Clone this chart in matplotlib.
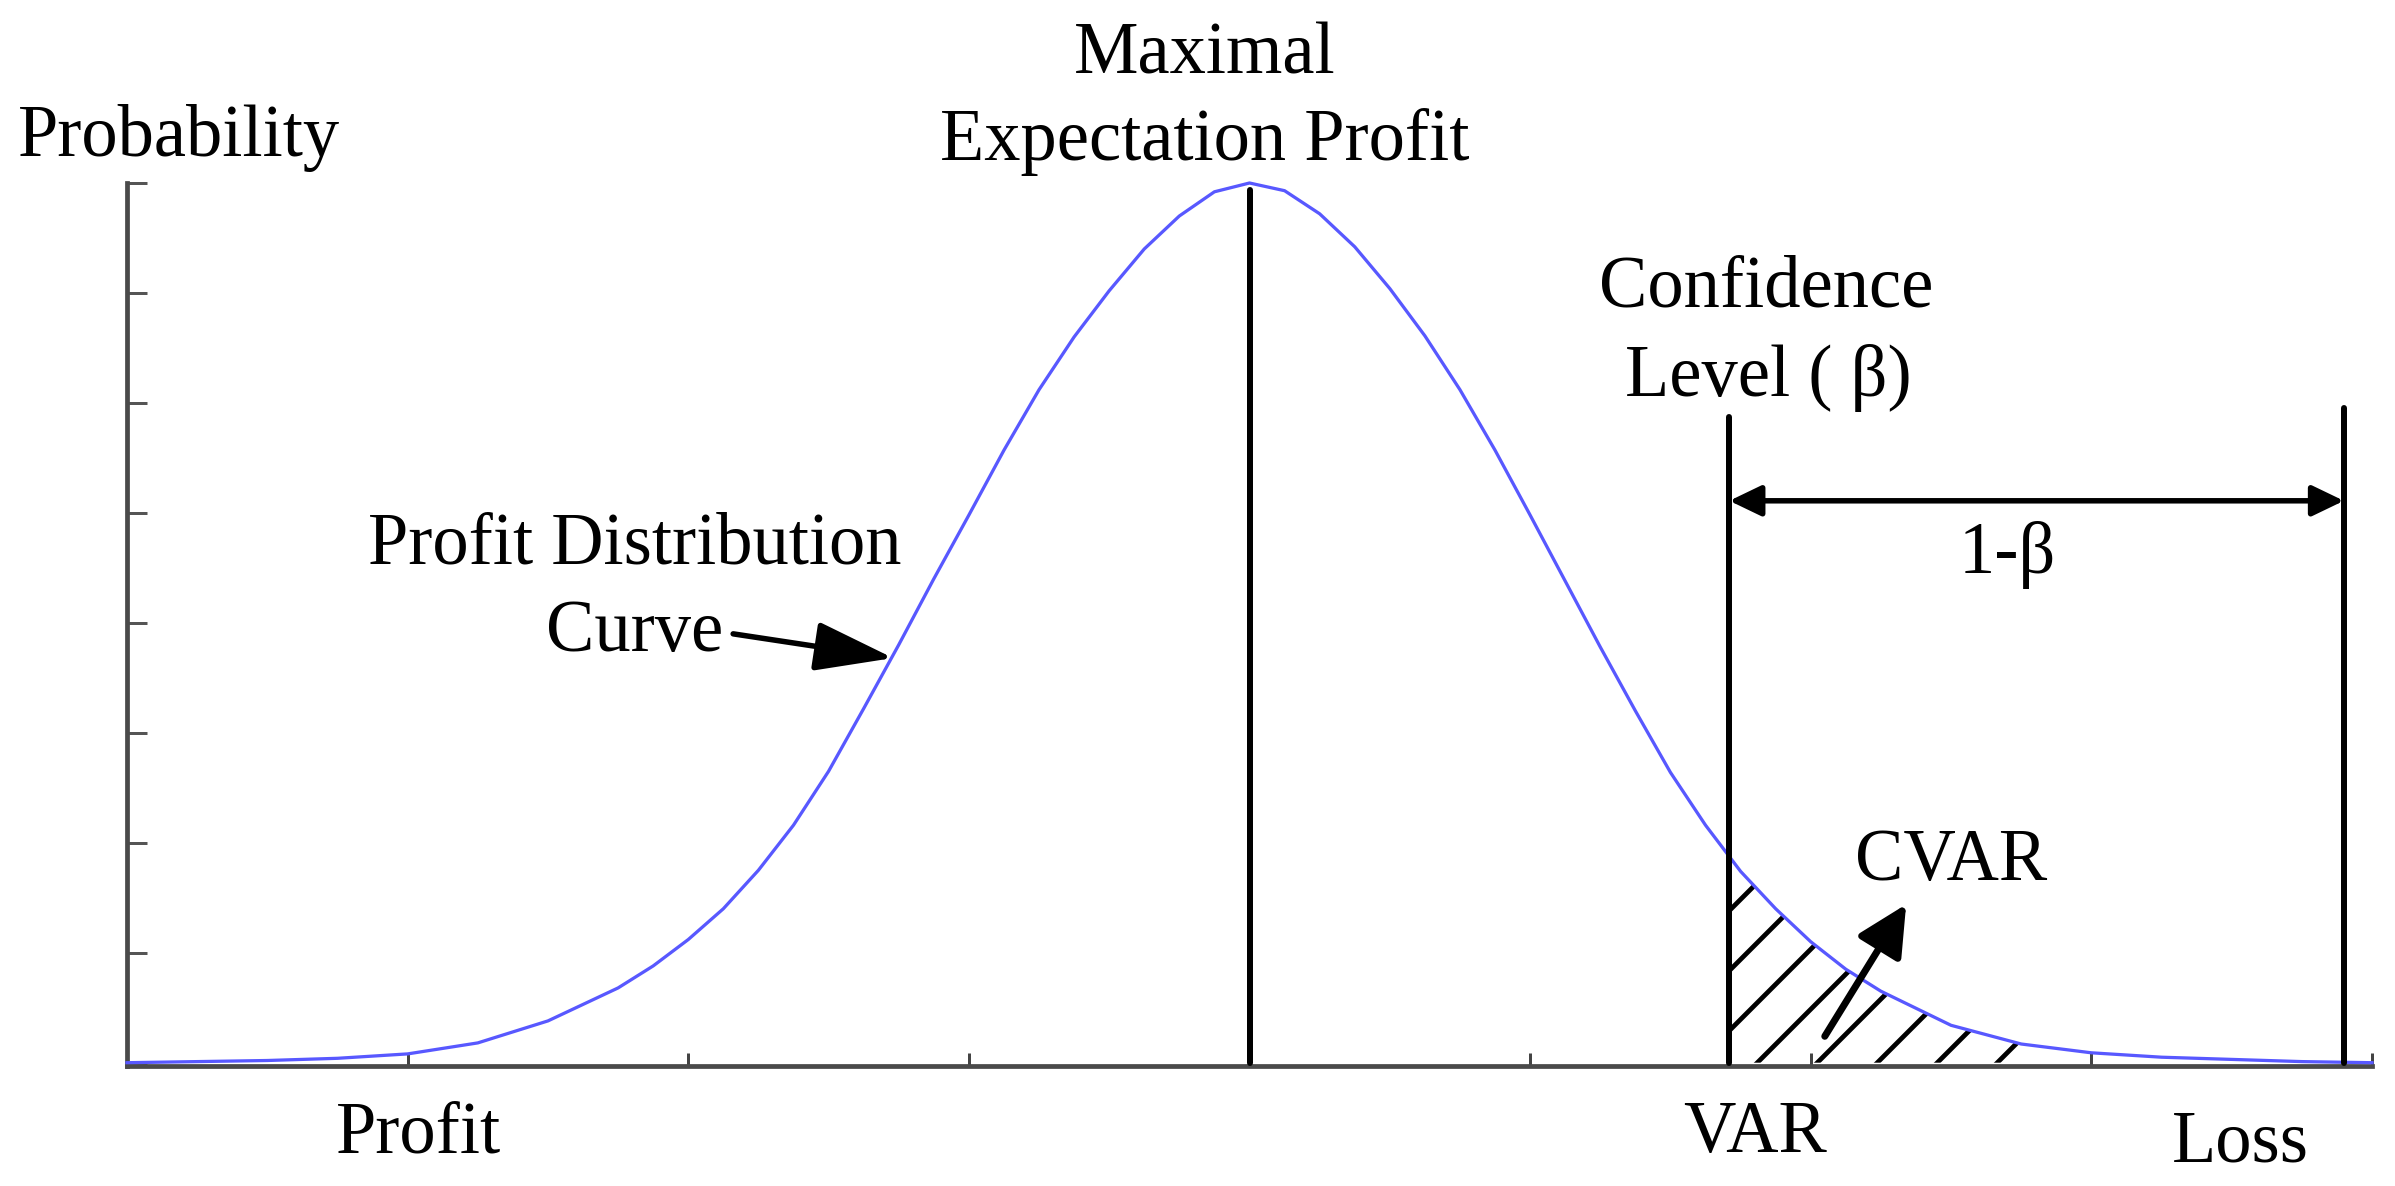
import matplotlib

matplotlib.use("Agg")
import matplotlib.pyplot as plt
import numpy as np


# profit distribution curve (axis units 0-8 on both axes)
CURVE_X = [0.0, 0.5, 0.75, 1.0, 1.25, 1.5, 1.75, 1.875, 2.0, 2.125, 2.25, 2.375,
           2.5, 2.625, 2.75, 2.875, 3.0, 3.125, 3.25, 3.375, 3.5, 3.625, 3.75,
           3.875, 4.0, 4.125, 4.25, 4.375, 4.5, 4.625, 4.75, 4.875, 5.0, 5.125,
           5.25, 5.375, 5.5, 5.625, 5.75, 5.875, 6.0, 6.125, 6.25, 6.5, 6.75,
           7.0, 7.25, 7.5, 7.75, 8.0]
CURVE_Y = [0.0, 0.02, 0.04, 0.08, 0.18, 0.38, 0.68, 0.88, 1.12, 1.40, 1.75, 2.16,
           2.65, 3.22, 3.80, 4.40, 4.98, 5.57, 6.12, 6.60, 7.02, 7.40, 7.70,
           7.92, 8.0, 7.93, 7.72, 7.42, 7.04, 6.61, 6.12, 5.57, 4.98, 4.38,
           3.78, 3.20, 2.64, 2.16, 1.74, 1.40, 1.10, 0.85, 0.65, 0.34, 0.17,
           0.09, 0.05, 0.03, 0.01, 0.0]

# vertical markers: x position and height
MEAN_X, MEAN_TOP = 4.0, 7.94
VAR_X, VAR_TOP = 5.71, 5.87
TAIL_X, TAIL_TOP = 7.90, 5.95
BAND_Y = 5.11
HATCH_END_X = 6.75

TICKS = list(range(9))

FONT = ["Liberation Serif", "DejaVu Serif"]
FONT_SIZE = 29
DPI = 180


def draw_chart():
    plt.rcParams["font.family"] = FONT
    plt.rcParams["hatch.linewidth"] = 1.9
    plt.rcParams["hatch.color"] = "black"

    fig = plt.figure(figsize=(2395 / DPI, 1186 / DPI), dpi=DPI)
    ax = fig.add_axes([127 / 2395, 1 - 1066 / 1186, 2245 / 2395, (1066 - 183) / 1186])
    ax.set_xlim(0, 8)
    ax.set_ylim(-0.03, 8)

    for side in ["top", "right"]:
        ax.spines[side].set_visible(False)
    for side in ["left", "bottom"]:
        ax.spines[side].set_color("#4a4a4a")
        ax.spines[side].set_linewidth(1.9)
    ax.set_xticks(TICKS)
    ax.set_yticks(TICKS)
    ax.tick_params(axis="x", direction="in", length=5.2, width=1.2, color="#444444",
                   labelbottom=False)
    ax.tick_params(axis="y", direction="in", length=8, width=1.2, color="#555555",
                   labelleft=False)

    cx = np.array(CURVE_X)
    cy = np.array(CURVE_Y)

    # hatched CVAR tail
    inside = (cx > VAR_X) & (cx < HATCH_END_X)
    hx = np.concatenate([[VAR_X], cx[inside], [HATCH_END_X]])
    hy = np.interp(hx, cx, cy)
    ax.fill_between(hx, 0, hy, facecolor="none", edgecolor="black", hatch="/",
                    linewidth=0, zorder=1)

    ax.plot(cx, cy, color="#5858ff", linewidth=1.3, zorder=3, clip_on=False)

    for x, top in [(MEAN_X, MEAN_TOP), (VAR_X, VAR_TOP), (TAIL_X, TAIL_TOP)]:
        ax.plot([x, x], [0, top], color="black", linewidth=2.4,
                solid_capstyle="round", zorder=4)

    # 1-beta span
    ax.annotate("", xy=(TAIL_X, BAND_Y), xytext=(VAR_X, BAND_Y),
                arrowprops=dict(arrowstyle="<|-|>,head_length=10.8,head_width=5.2",
                                color="black", lw=2.2, shrinkA=0, shrinkB=0,
                                mutation_scale=1))
    # pointer to the curve
    ax.annotate("", xy=(2.73, 3.68), xytext=(2.16, 3.90),
                arrowprops=dict(arrowstyle="-|>,head_length=27,head_width=8.5",
                                color="black", lw=2.2, shrinkA=0, shrinkB=0,
                                mutation_scale=1))
    # pointer to CVAR label
    ax.annotate("", xy=(6.34, 1.44), xytext=(6.05, 0.24),
                arrowprops=dict(arrowstyle="-|>,head_length=17,head_width=8.5",
                                color="black", lw=2.8, shrinkA=0, shrinkB=0,
                                mutation_scale=1))

    text_kw = dict(fontsize=FONT_SIZE, color="black", va="baseline", clip_on=False)
    ax.text(-0.388, 8.25, "Probability", ha="left", **text_kw)
    ax.text(3.84, 9.00, "Maximal", ha="center", **text_kw)
    ax.text(3.84, 8.21, "Expectation Profit", ha="center", **text_kw)
    ax.text(5.84, 6.875, "Confidence", ha="center", **text_kw)
    ax.text(5.85, 6.06, "Level ( β)", ha="center", **text_kw)
    ax.text(1.81, 4.54, "Profit Distribution", ha="center", **text_kw)
    ax.text(1.81, 3.74, "Curve", ha="center", **text_kw)
    ax.text(6.70, 4.45, "1-β", ha="center", **text_kw)
    ax.text(6.50, 1.66, "CVAR", ha="center", **text_kw)
    ax.text(1.04, -0.82, "Profit", ha="center", **text_kw)
    ax.text(5.80, -0.81, "VAR", ha="center", **text_kw)
    ax.text(7.53, -0.90, "Loss", ha="center", **text_kw)

    fig.savefig("out.png", dpi=DPI, facecolor="white")
    plt.close(fig)


def main():
    draw_chart()


if __name__ == "__main__":
    main()
